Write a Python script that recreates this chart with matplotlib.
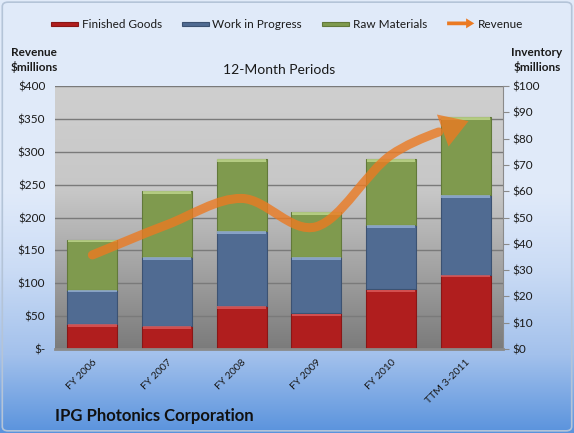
import numpy as np
import matplotlib
matplotlib.use("Agg")
import matplotlib.pyplot as plt
import matplotlib.patches as mpatches
from matplotlib.path import Path
from matplotlib.transforms import IdentityTransform
from matplotlib.bezier import split_de_casteljau
from matplotlib.colors import LinearSegmentedColormap
from matplotlib.legend_handler import HandlerPatch

# inventory ($ millions, right axis) and revenue ($ millions, left axis)
periods = ["FY 2006", "FY 2007", "FY 2008", "FY 2009", "FY 2010", "TTM 3-2011"]
finished_goods = [9.6, 8.8, 16.3, 13.5, 22.7, 28.3]
work_in_progress = [13.0, 26.2, 28.6, 21.5, 24.4, 30.2]
raw_materials = [19.0, 25.0, 27.3, 17.2, 25.1, 29.8]
revenue = [143, 189, 229, 186, 295, 345]

rev_ticks = [0, 50, 100, 150, 200, 250, 300, 350, 400]
rev_labels = ["$-"] + [f"${v}" for v in rev_ticks[1:]]
inv_ticks = list(range(0, 101, 10))
inv_labels = [f"${v}" for v in inv_ticks]

plt.rcParams["font.family"] = ["Lato", "DejaVu Sans"]
txt = "#1a1a1a"

W, H = 574, 433
fig = plt.figure(figsize=(W / 100, H / 100), dpi=100)


def vgradient(a, stops):
    cmap = LinearSegmentedColormap.from_list("g", stops)
    grad = np.linspace(0, 1, 256).reshape(-1, 1)
    a.imshow(grad, cmap=cmap, aspect="auto", extent=(0, 1, 0, 1), origin="upper")
    a.set_xlim(0, 1)
    a.set_ylim(0, 1)
    a.axis("off")


# figure background
bg = fig.add_axes([0, 0, 1, 1], zorder=-3)
vgradient(bg, [(0, "#e1ebf9"), (0.45, "#e0eafa"), (0.62, "#cbdcf5"),
               (0.82, "#a3c1ec"), (1, "#5a93dd")])
bg.add_patch(mpatches.FancyBboxPatch((0.004, 0.005), 0.992, 0.99,
                                     boxstyle="round,pad=0,rounding_size=0.01",
                                     fc="none", ec="#b4c4d8", lw=1.2,
                                     transform=bg.transAxes))

pos = [55 / W, 1 - 349 / H, 448 / W, 263 / H]
plotbg = fig.add_axes(pos, zorder=-2)
vgradient(plotbg, [(0, "#cfcfcf"), (0.4, "#c7c7c7"), (0.7, "#a2a2a2"), (1, "#7b7b7b")])

# bars on the inventory axis
ax2 = fig.add_axes(pos, zorder=1)
ax2.patch.set_visible(False)
x = np.arange(len(periods))
bw = 0.67
series = [
    (finished_goods, "#b01e1e", "#8a1616", "#e06060", "Finished Goods"),
    (work_in_progress, "#506b92", "#3c5272", "#9ab5da", "Work in Progress"),
    (raw_materials, "#7f9a4e", "#62793a", "#c6dd94", "Raw Materials"),
]
bottom = np.zeros(len(periods))
for vals, col, edge, hi, lab in series:
    vals = np.array(vals)
    ax2.bar(x, vals, bw, bottom=bottom, color=col, edgecolor=edge, lw=0.8, zorder=2)
    ax2.bar(x, np.full(len(x), 1.0), bw * 0.97, bottom=bottom + vals - 1.1,
            color=hi, alpha=0.75, lw=0, zorder=3)
    bottom = bottom + vals

ax2.set_xlim(-0.5, len(periods) - 0.5)
ax2.set_ylim(0, 100)
for v in rev_ticks[1:]:
    ax2.axhline(v * 100 / 400, color="#7a7a7a", lw=1, zorder=1)
ax2.yaxis.tick_right()
ax2.set_yticks(inv_ticks, inv_labels)
ax2.set_xticks(x, periods, rotation=45, ha="right", rotation_mode="anchor")
ax2.tick_params(axis="y", length=4, color="#8a8a8a", labelsize=8.5, labelcolor=txt, pad=3)
ax2.tick_params(axis="x", length=0, labelsize=7.5, labelcolor=txt, pad=6)
for s in ["top", "left"]:
    ax2.spines[s].set_visible(False)
ax2.spines["right"].set_color("#8a8a8a")
ax2.spines["bottom"].set_color("#8a8a8a")
ax2.spines["bottom"].set_linewidth(2)

# revenue curve on the left axis
ax = fig.add_axes(pos, zorder=2)
ax.patch.set_visible(False)
ax.set_xlim(-0.5, len(periods) - 0.5)
ax.set_ylim(0, 400)
ax.set_xticks([])
ax.set_yticks(rev_ticks, rev_labels)
ax.tick_params(axis="y", length=0, labelsize=8.5, labelcolor=txt, pad=7)
for s in ax.spines.values():
    s.set_visible(False)

# smooth curve through the revenue points (cubic bezier segments)
pts = np.column_stack([x, np.array(revenue, float)])
n = len(pts)
segs = []
for i in range(n - 1):
    p0, p1, p2, p3 = pts[max(i - 1, 0)], pts[i], pts[i + 1], pts[min(i + 2, n - 1)]
    segs.append(np.array([p1, p1 + (p2 - p0) / 6, p2 - (p3 - p1) / 6, p2]))

# last segment: line stops where the arrow head starts
t_head = 0.62
line_part, _ = split_de_casteljau(segs[-1], t_head - 0.05)
head_part, _ = split_de_casteljau(segs[-1], t_head)
segs[-1] = line_part

verts = [pts[0]]
codes = [Path.MOVETO]
for s in segs:
    verts += list(s[1:])
    codes += [Path.CURVE4] * 3

orange = "#eb7a22"
ax.add_patch(mpatches.PathPatch(Path(verts, codes), fc="none", ec=orange, lw=6.5,
                                alpha=0.8, capstyle="round", joinstyle="round", zorder=5))

# arrow head, built in pixel space so it stays a clean triangle
base = ax.transData.transform(head_part[-1])
tip = ax.transData.transform(pts[-1])
d = tip - base
d = d / np.hypot(*d)
nrm = np.array([-d[1], d[0]])
half = 17
head = np.array([base + nrm * half, tip + d * 3, base - nrm * half])
ax.add_patch(mpatches.Polygon(head, closed=True, fc=orange, ec="none", alpha=0.8,
                              transform=IdentityTransform(), zorder=5))

# texts
fig.text(34 / W, 1 - 52 / H, "Revenue", ha="center", va="center",
         fontsize=8.5, fontweight="bold", color=txt)
fig.text(34 / W, 1 - 67 / H, "$millions", ha="center", va="center",
         fontsize=8.5, fontweight="bold", color=txt)
fig.text(537 / W, 1 - 52 / H, "Inventory", ha="center", va="center",
         fontsize=8.5, fontweight="bold", color=txt)
fig.text(537 / W, 1 - 67 / H, "$millions", ha="center", va="center",
         fontsize=8.5, fontweight="bold", color=txt)
fig.text(279 / W, 1 - 70 / H, "12-Month Periods", ha="center", va="center",
         fontsize=10, color=txt)
fig.text(55 / W, 1 - 416 / H, "IPG Photonics Corporation", ha="left", va="center",
         fontsize=12, fontweight="bold", color="#111111")


# legend
def bar_handle(legend, orig_handle, xdescent, ydescent, width, height, fontsize):
    return mpatches.Rectangle((-xdescent, -ydescent + height * 0.22), width, height * 0.5)


def arrow_handle(legend, orig_handle, xdescent, ydescent, width, height, fontsize):
    return mpatches.FancyArrow(-xdescent, -ydescent + height / 2, width, 0,
                               width=height * 0.45, head_width=height * 1.2,
                               head_length=width * 0.3, length_includes_head=True)


handles = [mpatches.Patch(fc=c, ec=e, lw=0.8) for _, c, e, _, _ in series]
labels = [lab for *_, lab in series]
rev_handle = mpatches.Patch(fc=orange, ec="none")
hmap = {h: HandlerPatch(patch_func=bar_handle) for h in handles}
hmap[rev_handle] = HandlerPatch(patch_func=arrow_handle)
leg = fig.legend(handles + [rev_handle], labels + ["Revenue"], handler_map=hmap,
                 loc="center", bbox_to_anchor=(0.5, 1 - 24 / H), ncol=4, frameon=False,
                 fontsize=8.5, handlelength=2.3, columnspacing=1.7, handletextpad=0.3)
for t in leg.get_texts():
    t.set_color(txt)

fig.savefig("out.png", dpi=100)
